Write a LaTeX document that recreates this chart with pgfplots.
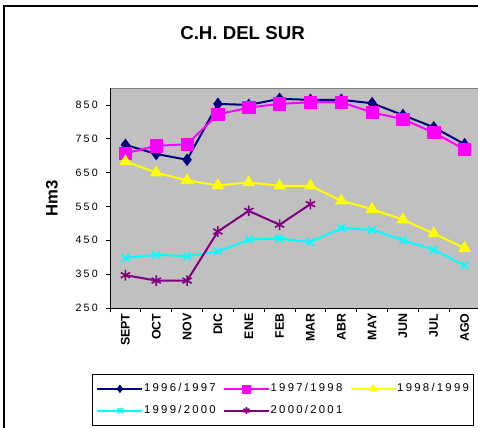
\documentclass[border=0pt]{standalone}
\usepackage{fontspec}
\setmainfont{Liberation Sans}
\newfontfamily\spaced[LetterSpace=20]{Liberation Sans}
\usepackage{pgfplots}
\pgfplotsset{compat=1.18}
\definecolor{navyc}{RGB}{0,0,128}
\definecolor{magc}{RGB}{255,0,255}
\definecolor{yelc}{RGB}{255,255,0}
\definecolor{cyac}{RGB}{0,255,255}
\definecolor{purc}{RGB}{128,0,128}
\definecolor{bgc}{RGB}{192,192,192}
\begin{document}
\begin{tikzpicture}
\path[use as bounding box] (0,0) rectangle (358.5pt,-321pt);
\draw[black, line width=0.8pt] (3pt,-330pt) -- (3pt,-4.5pt) -- (370pt,-4.5pt);
\node[font=\bfseries\fontsize{14}{16}\selectfont] at (181.9pt,-24.75pt) {C.H. DEL SUR};
\begin{axis}[
  at={(82.5pt,-231pt)}, anchor=south west,
  scale only axis, width=277.5pt, height=165pt,
  xmin=-0.5, xmax=11.5, ymin=250, ymax=900,
  axis background/.style={fill=bgc},
  axis line style={draw=gray, line width=0.6pt},
  xtick={-0.5,0.5,...,11.5},
  x tick label as interval,
  xticklabels={SEPT,OCT,NOV,DIC,ENE,FEB,MAR,ABR,MAY,JUN,JUL,AGO},
  x tick label style={rotate=90, anchor=east, font=\bfseries\fontsize{9.3}{10}\selectfont, inner sep=0pt, xshift=-1pt},
  ytick={250,350,...,850},
  y tick label style={font=\spaced\fontsize{8}{9}\selectfont, inner sep=0pt, xshift=-6pt},
  /pgf/number format/assume math mode=true,
  /pgf/number format/1000 sep={},
  xtick pos=bottom, ytick pos=left,
  tick align=outside, major tick length=3pt,
  tick style={black, line width=0.6pt},
  ylabel={Hm3},
  every axis y label/.style={at={(axis description cs:-0.157,0.5)}, rotate=90, anchor=center, font=\bfseries\fontsize{12.5}{14}\selectfont},
  legend columns=3,
  legend cell align=left,
  legend style={at={(-0.0486,-0.3)}, anchor=north west, draw=black, line width=0.6pt,
    font=\spaced\fontsize{8.5}{10}\selectfont, inner xsep=3pt, inner ysep=7pt,
    nodes={inner sep=0pt},
    /tikz/every odd column/.append style={column sep=0.5pt},
    /tikz/every even column/.append style={column sep=5.4pt},
    /tikz/row sep=8.6pt},
  legend image code/.code={\draw[#1, every mark/.append style={scale=0.65}, mark repeat=2, mark phase=2] plot coordinates {(0pt,0pt) (16.875pt,0pt) (33.75pt,0pt)};},
  after end axis/.code={\draw[black, line width=0.7pt] (rel axis cs:0,1) -- (rel axis cs:0,0) -- (rel axis cs:1,0);},
]
\addplot[color=navyc, line width=1.5pt, mark=diamond*, mark size=4.3pt, mark options={solid, line width=0.5pt}] coordinates {
(0,732) (1,705) (2,688) (3,853) (4,850) (5,868) (6,865) (7,865) (8,855) (9,820) (10,784) (11,734)};
\addlegendentry{1996/1997}
\addplot[color=magc, line width=1.5pt, mark=square*, mark size=4.6pt, mark options={solid, line width=0.5pt}] coordinates {
(0,707) (1,729) (2,734) (3,822) (4,842) (5,853) (6,858) (7,858) (8,828) (9,808) (10,768) (11,719)};
\addlegendentry{1997/1998}
\addplot[color=yelc, line width=1.5pt, mark=triangle*, mark size=5pt, mark options={solid, line width=0.5pt}] coordinates {
(0,683) (1,650) (2,627) (3,612) (4,621) (5,611) (6,611) (7,567) (8,542) (9,511) (10,470) (11,427)};
\addlegendentry{1998/1999}
\addplot[color=cyac, line width=1.5pt, mark=x, mark size=4pt, mark options={solid, line width=1.3pt}] coordinates {
(0,398) (1,407) (2,403) (3,417) (4,452) (5,455) (6,445) (7,486) (8,481) (9,450) (10,422) (11,376)};
\addlegendentry{1999/2000}
\addplot[color=purc, line width=1.5pt, mark=asterisk, mark size=4pt, mark options={solid, line width=1.2pt}] coordinates {
(0,347) (1,331) (2,331) (3,476) (4,537) (5,496) (6,557)};
\addlegendentry{2000/2001}
\end{axis}
\end{tikzpicture}
\end{document}
